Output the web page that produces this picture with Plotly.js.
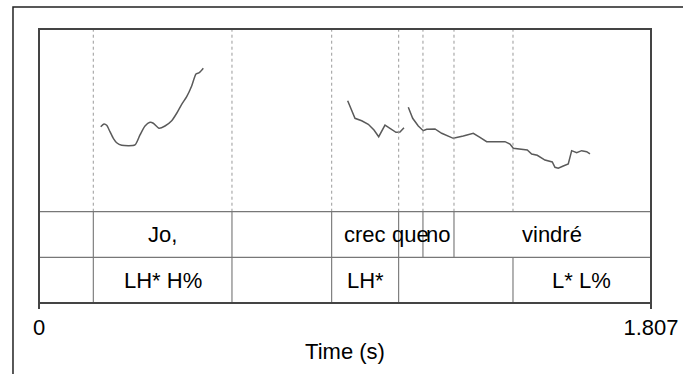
<!DOCTYPE html>
<html>
<head>
<meta charset="utf-8">
<script src="https://cdn.plot.ly/plotly-3.0.1.min.js"></script>
<style>html,body{margin:0;padding:0;background:#fff;}#chart{width:683px;height:374px;}</style>
</head>
<body>
<div id="chart"></div>
<script>
// Time axis
const tMax = 1.807;
// Pitch contour segments (time in s, F0 in Hz)
const seg1T = [0.1822,0.1919,0.1999,0.2096,0.2194,0.2294,0.2442,0.2834,0.2982,0.3130,0.3277,0.3375,0.3543,0.3720,0.3918,0.4066,0.4213,0.4361,0.4508,0.4635,0.4733,0.4851];
const seg1F = [216.3,220.0,218.2,209.5,200.4,194.4,190.9,191.3,205.0,217.3,222.3,221.0,214.1,217.3,224.5,234.7,247.0,257.4,272.0,288.4,290.2,296.2];
const seg2T = [0.9114,0.9330,0.9528,0.9723,0.9891,1.0030,1.0216,1.0413,1.0540,1.0658,1.0777];
const seg2F = [251.9,227.8,224.5,219.6,211.8,202.6,218.6,212.8,208.7,209.1,214.9];
const seg3T = [1.0904,1.1033,1.1199,1.1346,1.1447,1.1692,1.1890,1.2232,1.2527,1.2823,1.3020,1.3218,1.3758,1.3906,1.4004,1.4201,1.4417,1.4547,1.4712,1.4939,1.5087,1.5155,1.5235,1.5332,1.5480,1.5627,1.5728,1.5875,1.6023,1.6171,1.6268];
const seg3F = [242.9,227.8,217.3,210.8,212.8,213.2,207.3,200.4,203.6,207.3,201.8,195.8,195.8,192.6,186.8,185.8,184.4,179.0,177.2,170.7,169.4,168.0,160.8,159.4,162.5,165.3,183.5,180.7,183.5,182.1,179.0];
// Word tier (interval boundaries and labels)
const wordBounds = [0,0.1603,0.5698,0.8642,1.0620,1.1337,1.2253,1.807];
const wordLabels = ["","Jo,","","crec","que","no","vindré"];
// Tone tier
const toneBounds = [0,0.1603,0.5698,0.8642,1.0620,1.3995,1.807];
const toneLabels = ["","LH* H%","","LH*","","L* L%"];
// Tick labels
const tickVals = [0, 1.807];
const tickText = ["0", "1.807"];

const FONT = "Liberation Sans, Arial, Helvetica, sans-serif";
const FS = 22;
const pitchBottom = 0.3332, tierMid = 0.1668;

const lineStyle = {color:'#5a5a5a', width:1.5};
const traces = [
  {x:seg1T, y:seg1F, mode:'lines', line:Object.assign({shape:'spline', smoothing:0.6}, lineStyle), hoverinfo:'skip'},
  {x:seg2T, y:seg2F, mode:'lines', line:lineStyle, hoverinfo:'skip'},
  {x:seg3T, y:seg3F, mode:'lines', line:lineStyle, hoverinfo:'skip'}
];

const shapes = [];
// outer frame
shapes.push({type:'rect', xref:'paper', yref:'paper', x0:-0.0425, x1:1.2, y0:-0.4, y1:1.0803, line:{color:'#222', width:1.5}, layer:'below'});
// all boundaries (dotted in pitch area)
const allB = Array.from(new Set(wordBounds.slice(1,-1).concat(toneBounds.slice(1,-1)))).sort((a,b)=>a-b);
allB.forEach(b => shapes.push({type:'line', xref:'x', yref:'paper', x0:b, x1:b, y0:pitchBottom, y1:1, line:{color:'#999', width:1, dash:'dot'}}));
wordBounds.slice(1,-1).forEach(b => shapes.push({type:'line', xref:'x', yref:'paper', x0:b, x1:b, y0:tierMid, y1:pitchBottom, line:{color:'#666', width:1}}));
toneBounds.slice(1,-1).forEach(b => shapes.push({type:'line', xref:'x', yref:'paper', x0:b, x1:b, y0:0, y1:tierMid, line:{color:'#666', width:1}}));
// tier horizontal lines
[pitchBottom, tierMid].forEach(y => shapes.push({type:'line', xref:'paper', yref:'paper', x0:0, x1:1, y0:y, y1:y, line:{color:'#777', width:1.2}}));
// inner box
shapes.push({type:'rect', xref:'paper', yref:'paper', x0:0, x1:1, y0:0, y1:1, line:{color:'#444', width:2}});

const annotations = [];
wordLabels.forEach((l,i) => { if(l) annotations.push({x:(wordBounds[i]+wordBounds[i+1])/2, y:(tierMid+pitchBottom)/2, xref:'x', yref:'paper', text:l, showarrow:false, font:{family:FONT, size:FS, color:'#000'}, xanchor:'center', yanchor:'middle'}); });
toneLabels.forEach((l,i) => { if(l) annotations.push({x:(toneBounds[i]+toneBounds[i+1])/2, y:tierMid/2, xref:'x', yref:'paper', text:l, showarrow:false, font:{family:FONT, size:FS, color:'#000'}, xanchor:'center', yanchor:'middle'}); });

const layout = {
  width:683, height:374,
  margin:{l:39, r:32, t:29, b:71},
  paper_bgcolor:'#fff', plot_bgcolor:'#fff',
  showlegend:false,
  font:{family:FONT, size:FS, color:'#000'},
  xaxis:{range:[0,tMax], anchor:'free', position:0, showgrid:false, zeroline:false, showline:false, ticks:'outside', ticklen:5, tickwidth:1.5, tickcolor:'#444',
         tickvals:tickVals, ticktext:tickText, tickfont:{family:FONT, size:FS, color:'#000'},
         title:{text:'Time (s)', font:{family:FONT, size:FS, color:'#000'}, standoff:4}, fixedrange:true},
  yaxis:{domain:[pitchBottom,1], range:[100,350], visible:false, fixedrange:true},
  shapes:shapes,
  annotations:annotations
};
Plotly.newPlot('chart', traces, layout, {staticPlot:true, displayModeBar:false});
</script>
</body>
</html>
